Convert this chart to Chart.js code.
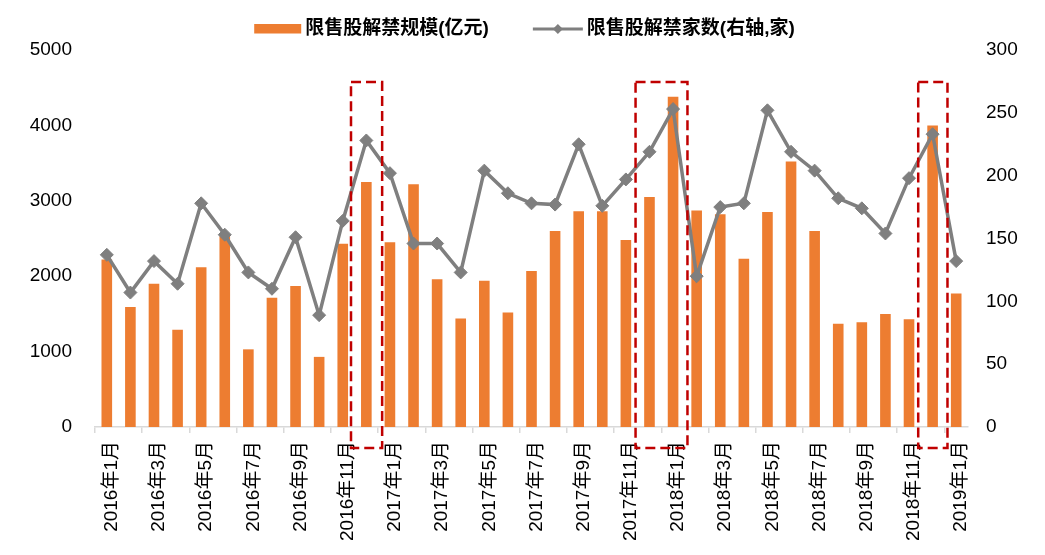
<!DOCTYPE html>
<html>
<head>
<meta charset="utf-8">
<script src="https://cdn.jsdelivr.net/npm/chart.js@4.4.1/dist/chart.umd.min.js"></script>
<style>
  html, body { margin: 0; padding: 0; background: #fff; }
  canvas { display: block; }
</style>
</head>
<body>
<canvas id="chart" width="1045" height="555"></canvas>
<script>
const months = [
  "2016年1月","2016年2月","2016年3月","2016年4月","2016年5月","2016年6月",
  "2016年7月","2016年8月","2016年9月","2016年10月","2016年11月","2016年12月",
  "2017年1月","2017年2月","2017年3月","2017年4月","2017年5月","2017年6月",
  "2017年7月","2017年8月","2017年9月","2017年10月","2017年11月","2017年12月",
  "2018年1月","2018年2月","2018年3月","2018年4月","2018年5月","2018年6月",
  "2018年7月","2018年8月","2018年9月","2018年10月","2018年11月","2018年12月",
  "2019年1月"
];
// 限售股解禁规模 (亿元, left axis)
const unlockValue = [
  2220, 1590, 1900, 1290, 2120, 2530, 1030, 1715, 1870, 930, 2430, 3250,
  2450, 3220, 1960, 1440, 1940, 1520, 2070, 2600, 2860, 2860, 2480, 3050,
  4380, 2870, 2820, 2230, 2850, 3520, 2600, 1370, 1390, 1500, 1430, 4000,
  1770
];
// 限售股解禁家数 (家, right axis)
const unlockCount = [
  137, 107, 132, 114, 178, 153, 123, 110, 151, 89, 164, 228,
  202, 146, 146, 123, 204, 186, 178, 177, 225, 176, 197, 219,
  253, 120, 175, 178, 252, 219, 204, 182, 174, 154, 198, 233,
  132
];
const seriesNames = ["限售股解禁规模(亿元)", "限售股解禁家数(右轴,家)"];
// highlighted periods, in category index units (from, to)
const highlights = [[10.35, 11.67], [22.41, 24.61], [34.39, 35.63]];
const highlightTop = 274.5; // right-axis value of the box top

const FONT = '"Liberation Sans", Arial, "Noto Sans CJK SC", sans-serif';
const ORANGE = "#ED7D31";
const GREY = "#7F7F7F";

const legendPlugin = {
  id: "topLegend",
  afterDraw(chart){
    const ctx = chart.ctx;
    ctx.save();
    ctx.font = "bold 19px " + FONT;
    ctx.textBaseline = "middle";
    ctx.fillStyle = "#000";
    const w1 = ctx.measureText(seriesNames[0]).width;
    const w2 = ctx.measureText(seriesNames[1]).width;
    const total = 47 + 4 + w1 + 44 + 50 + 4 + w2;
    let x = chart.width / 2 + 2 - total / 2;
    const y = 29;
    ctx.fillStyle = ORANGE;
    ctx.fillRect(x, y - 5, 47, 9.5);
    x += 51;
    ctx.fillStyle = "#000";
    ctx.fillText(seriesNames[0], x, y);
    x += w1 + 44;
    ctx.strokeStyle = GREY;
    ctx.lineWidth = 3;
    ctx.beginPath();
    ctx.moveTo(x, y);
    ctx.lineTo(x + 50, y);
    ctx.stroke();
    ctx.fillStyle = GREY;
    ctx.beginPath();
    ctx.moveTo(x + 25, y - 5);
    ctx.lineTo(x + 30, y);
    ctx.lineTo(x + 25, y + 5);
    ctx.lineTo(x + 20, y);
    ctx.closePath();
    ctx.fill();
    x += 54;
    ctx.fillStyle = "#000";
    ctx.fillText(seriesNames[1], x, y);
    ctx.restore();
  }
};

const boxPlugin = {
  id: "highlightBoxes",
  afterDatasetsDraw(chart){
    const ctx = chart.ctx;
    const xs = chart.scales.x;
    const top = chart.scales.y1.getPixelForValue(highlightTop);
    const bottom = chart.chartArea.bottom + 21;
    ctx.save();
    ctx.strokeStyle = "#C00000";
    ctx.lineWidth = 2.5;
    ctx.setLineDash([10, 5]);
    highlights.forEach(h => {
      const l = xs.getPixelForValue(h[0]);
      const r = xs.getPixelForValue(h[1]);
      ctx.strokeRect(l, top, r - l, bottom - top);
    });
    ctx.restore();
  }
};

new Chart(document.getElementById("chart"), {
  data: {
    labels: months,
    datasets: [
      {
        type: "line",
        label: seriesNames[1],
        data: unlockCount,
        yAxisID: "y1",
        order: 0,
        borderColor: GREY,
        borderWidth: 3.5,
        pointStyle: "rectRot",
        pointRadius: 6.5,
        pointBackgroundColor: GREY,
        pointBorderColor: GREY,
        pointBorderWidth: 1,
        tension: 0
      },
      {
        type: "bar",
        label: seriesNames[0],
        data: unlockValue,
        yAxisID: "y",
        order: 1,
        backgroundColor: ORANGE,
        categoryPercentage: 1,
        barPercentage: 0.45
      }
    ]
  },
  options: {
    responsive: false,
    devicePixelRatio: 1,
    animation: false,
    layout: { padding: { top: 50, left: 0, right: 0, bottom: 0 } },
    plugins: {
      legend: { display: false },
      tooltip: { enabled: false }
    },
    scales: {
      x: {
        offset: true,
        afterFit(s){ s.height = 128; },
        grid: {
          offset: true,
          drawOnChartArea: false,
          drawTicks: true,
          tickLength: 6,
          lineWidth: 1.5,
          color: c => (c.index % 2 === 0 ? "#D9D9D9" : "rgba(0,0,0,0)")
        },
        border: { color: "#D9D9D9", width: 1.5 },
        ticks: {
          autoSkip: false,
          maxRotation: 90,
          minRotation: 90,
          padding: 8,
          labelOffset: 5,
          color: "#000",
          font: { family: FONT, size: 19 },
          callback(v, i){ return i % 2 === 0 ? months[i] : ""; }
        }
      },
      y: {
        position: "left",
        min: 0,
        max: 5000,
        afterFit(s){ s.width = 95; },
        grid: { display: false, drawTicks: false },
        border: { display: false },
        ticks: {
          stepSize: 1000,
          padding: 23,
          color: "#000",
          font: { family: FONT, size: 19 },
          callback: v => String(v)
        }
      },
      y1: {
        position: "right",
        min: 0,
        max: 300,
        afterFit(s){ s.width = 77; },
        grid: { display: false, drawTicks: false },
        border: { display: false },
        ticks: {
          stepSize: 50,
          padding: 18,
          color: "#000",
          font: { family: FONT, size: 19 },
          callback: v => String(v)
        }
      }
    }
  },
  plugins: [legendPlugin, boxPlugin]
});
</script>
</body>
</html>
